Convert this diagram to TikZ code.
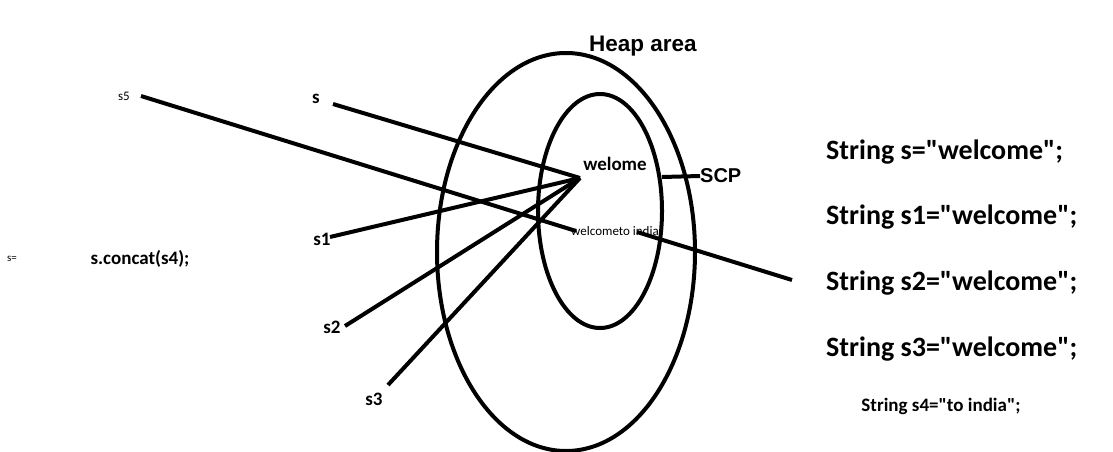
\documentclass[tikz,border=0pt]{standalone}
\usepackage{fontspec}
\setmainfont{Carlito}[Ligatures=TeXOff]
\newfontfamily\heapfont{Liberation Sans}
\usetikzlibrary{positioning,calc}
\newcommand{\dq}{\symbol{34}}

\begin{document}
\begin{tikzpicture}[
    x=1pt, y=-1pt,
    every node/.style={inner sep=0pt},
    ref/.style={font=\bfseries\fontsize{19}{22}\selectfont},
    smallref/.style={font=\fontsize{13}{15}\selectfont},
    code/.style={font=\bfseries\fontsize{28}{32}\selectfont, anchor=west},
    title/.style={font=\heapfont\bfseries\fontsize{22.5}{26}\selectfont},
    pointer/.style={line width=4pt},
    area/.style={line width=4pt}
]
\useasboundingbox (0,0) rectangle (1113,452);

% Heap and string constant pool
\draw[area] (566,252) ellipse [x radius=129pt, y radius=199pt];
\draw[area] (600,211) ellipse [x radius=62pt, y radius=117pt];
\node[title] (heap) at (643,46) {Heap area};
\node[title, font=\heapfont\bfseries\fontsize{20}{24}\selectfont, anchor=west] (scp) at (700,176) {SCP};
\coordinate (scpend) at (662,177);
\draw[pointer] (scpend) -- (scp.west);

% Objects
\coordinate (hub) at (580,178);
\node[ref] (obj1) at (615,164) {welome};
\node[smallref] (obj2) at (615,231) {welcometo india};

% References
\node[ref] (s) at (316,99) {s};
\node[ref] (s1) at (322,239) {s1};
\node[ref] (s2) at (332,327) {s2};
\node[ref] (s3) at (374,399) {s3};
\node[smallref] (s5) at (124,96) {s5};
\coordinate (s-end) at (333,104);
\coordinate (s1-end) at (330,237);
\coordinate (s2-end) at (345,326);
\coordinate (s3-end) at (388,385);
\coordinate (s5-end) at (141,96);

\draw[pointer] (s-end) -- (hub);
\draw[pointer] (s1-end) -- (hub);
\draw[pointer] (s2-end) -- (hub);
\draw[pointer] (s3-end) -- (hub);
\draw[pointer] (s5-end) -- ($(obj2.west)+(5,0)$);
\coordinate (tail) at (792,280);
\draw[pointer] ($(obj2.east)+(-22,1)$) -- (tail);

% Concat
\node[font=\fontsize{11}{13}\selectfont] (seq) at (12,259) {s=};
\node[ref] (concat) at (140,259) {s.concat(s4);};

% Code
\node[code] (c0) at (826,152) {String s=\dq welcome\dq;};
\node[code] (c1) at (826,217) {String s1=\dq welcome\dq;};
\node[code] (c2) at (826,283) {String s2=\dq welcome\dq;};
\node[code] (c3) at (826,349) {String s3=\dq welcome\dq;};
\node[font=\bfseries\fontsize{19}{22}\selectfont] (c4) at (941,406) {String s4=\dq to india\dq;};

\end{tikzpicture}
\end{document}
